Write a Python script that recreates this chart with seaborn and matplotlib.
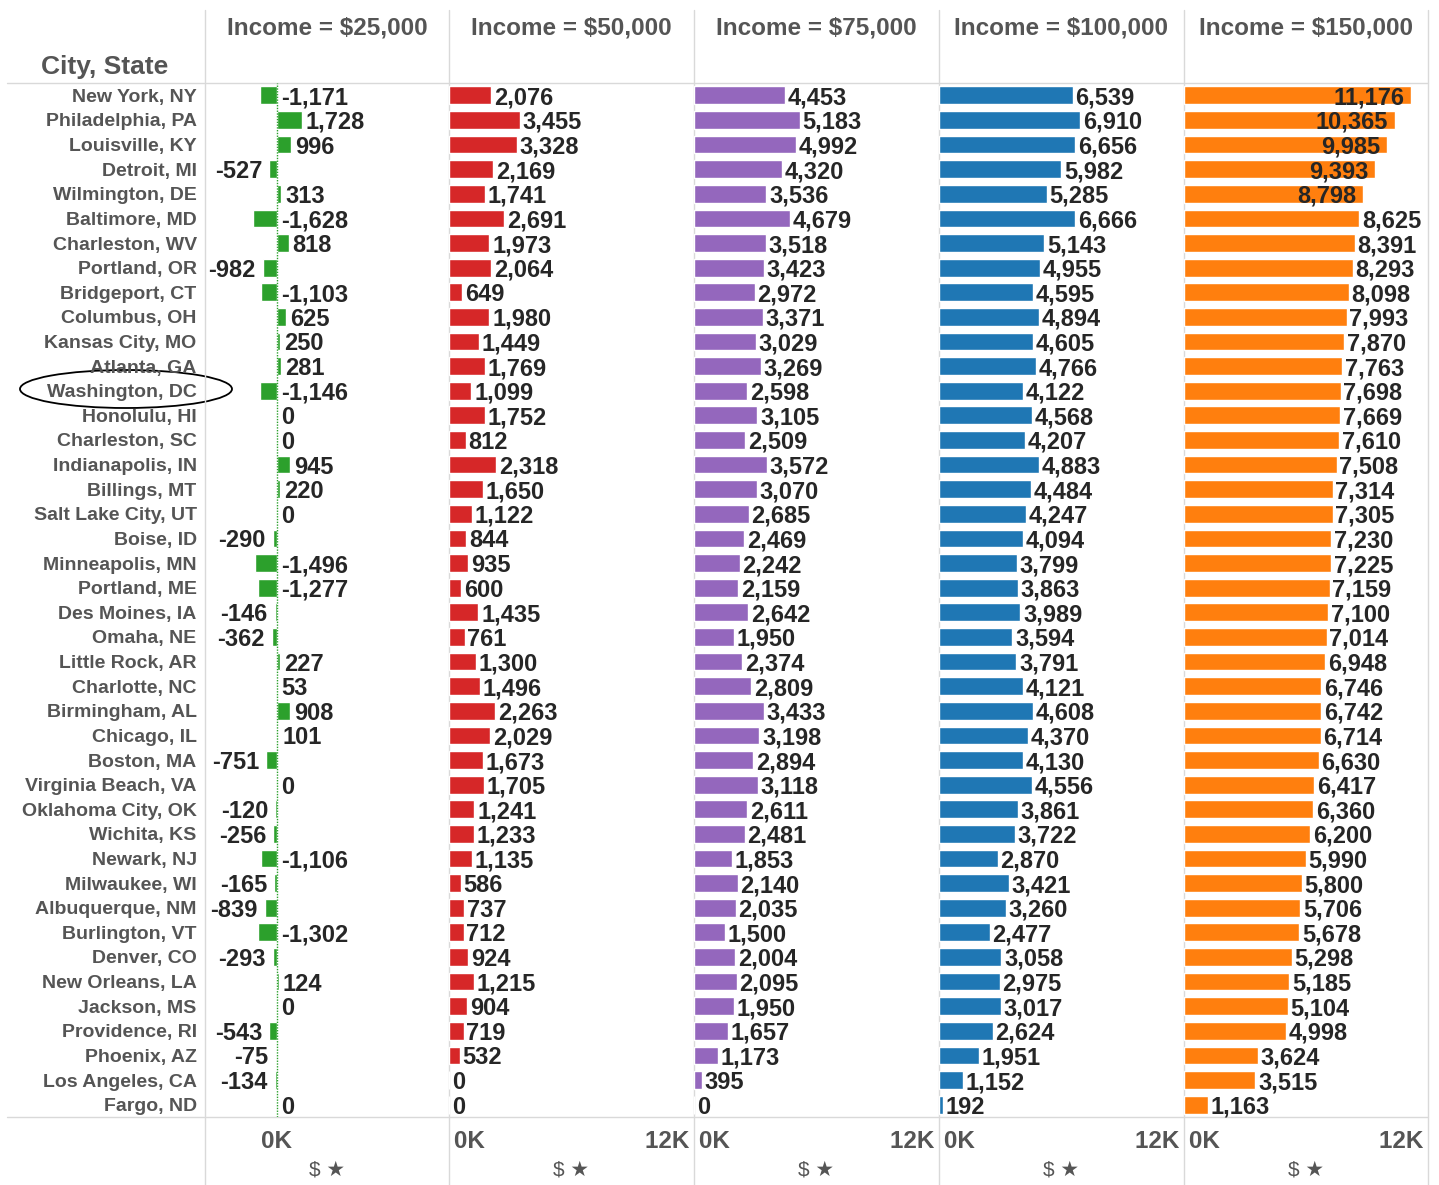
import numpy as np
import pandas as pd
import seaborn as sns
import matplotlib.pyplot as plt
from matplotlib.patches import Ellipse

# data
cities = [
    'New York, NY', 'Philadelphia, PA', 'Louisville, KY', 'Detroit, MI', 'Wilmington, DE',
    'Baltimore, MD', 'Charleston, WV', 'Portland, OR', 'Bridgeport, CT', 'Columbus, OH',
    'Kansas City, MO', 'Atlanta, GA', 'Washington, DC', 'Honolulu, HI', 'Charleston, SC',
    'Indianapolis, IN', 'Billings, MT', 'Salt Lake City, UT', 'Boise, ID', 'Minneapolis, MN',
    'Portland, ME', 'Des Moines, IA', 'Omaha, NE', 'Little Rock, AR', 'Charlotte, NC',
    'Birmingham, AL', 'Chicago, IL', 'Boston, MA', 'Virginia Beach, VA', 'Oklahoma City, OK',
    'Wichita, KS', 'Newark, NJ', 'Milwaukee, WI', 'Albuquerque, NM', 'Burlington, VT',
    'Denver, CO', 'New Orleans, LA', 'Jackson, MS', 'Providence, RI', 'Phoenix, AZ',
    'Los Angeles, CA', 'Fargo, ND',
]
inc_25k = [-1171, 1728, 996, -527, 313, -1628, 818, -982, -1103, 625,
           250, 281, -1146, 0, 0, 945, 220, 0, -290, -1496,
           -1277, -146, -362, 227, 53, 908, 101, -751, 0, -120,
           -256, -1106, -165, -839, -1302, -293, 124, 0, -543, -75,
           -134, 0]
inc_50k = [2076, 3455, 3328, 2169, 1741, 2691, 1973, 2064, 649, 1980,
           1449, 1769, 1099, 1752, 812, 2318, 1650, 1122, 844, 935,
           600, 1435, 761, 1300, 1496, 2263, 2029, 1673, 1705, 1241,
           1233, 1135, 586, 737, 712, 924, 1215, 904, 719, 532,
           0, 0]
inc_75k = [4453, 5183, 4992, 4320, 3536, 4679, 3518, 3423, 2972, 3371,
           3029, 3269, 2598, 3105, 2509, 3572, 3070, 2685, 2469, 2242,
           2159, 2642, 1950, 2374, 2809, 3433, 3198, 2894, 3118, 2611,
           2481, 1853, 2140, 2035, 1500, 2004, 2095, 1950, 1657, 1173,
           395, 0]
inc_100k = [6539, 6910, 6656, 5982, 5285, 6666, 5143, 4955, 4595, 4894,
            4605, 4766, 4122, 4568, 4207, 4883, 4484, 4247, 4094, 3799,
            3863, 3989, 3594, 3791, 4121, 4608, 4370, 4130, 4556, 3861,
            3722, 2870, 3421, 3260, 2477, 3058, 2975, 3017, 2624, 1951,
            1152, 192]
inc_150k = [11176, 10365, 9985, 9393, 8798, 8625, 8391, 8293, 8098, 7993,
            7870, 7763, 7698, 7669, 7610, 7508, 7314, 7305, 7230, 7225,
            7159, 7100, 7014, 6948, 6746, 6742, 6714, 6630, 6417, 6360,
            6200, 5990, 5800, 5706, 5678, 5298, 5185, 5104, 4998, 3624,
            3515, 1163]

headers = ['Income = $25,000', 'Income = $50,000', 'Income = $75,000',
           'Income = $100,000', 'Income = $150,000']
cols = ['inc_25k', 'inc_50k', 'inc_75k', 'inc_100k', 'inc_150k']
colors = ['#2ca02c', '#d62728', '#9467bd', '#1f77b4', '#ff7f0e']

df = pd.DataFrame({'city': cities, 'inc_25k': inc_25k, 'inc_50k': inc_50k,
                   'inc_75k': inc_75k, 'inc_100k': inc_100k, 'inc_150k': inc_150k})

sns.set_style('white')
plt.rcParams['font.family'] = ['Liberation Sans', 'DejaVu Sans']
plt.rcParams['font.weight'] = 'bold'

GRAY = '#555555'
LINE = '#d9d9d9'
W, H = 1439, 1185
fig = plt.figure(figsize=(W / 100, H / 100), dpi=100)


def px(x0, y0, x1, y1):
    return [x0 / W, 1 - y1 / H, (x1 - x0) / W, (y1 - y0) / H]


# background layer in pixel coords: grid lines, headers, ellipse
bg = fig.add_axes([0, 0, 1, 1])
bg.set_xlim(0, W)
bg.set_ylim(H, 0)
bg.axis('off')

edges = [205, 449, 694, 939, 1184, 1428]
top, bottom = 83, 1117
bg.plot([7, 1428], [top, top], color=LINE, lw=1)
bg.plot([7, 1428], [bottom, bottom], color=LINE, lw=1)
for x in edges:
    bg.plot([x, x], [10, H], color=LINE, lw=1)

bg.text(105, 67, 'City, State', ha='center', va='center', fontsize=19, color=GRAY, weight='bold')
for i, h in enumerate(headers):
    bg.text((edges[i] + edges[i + 1]) / 2, 28, h, ha='center', va='center',
            fontsize=17.5, color=GRAY, weight='bold')

bg.add_patch(Ellipse((126, 389), 212, 38, fill=False, ec='black', lw=1.3))

lims = [(-5000, 12000)] + [(0, 12000)] * 4

for i, col in enumerate(cols):
    ax = fig.add_axes(px(edges[i], top, edges[i + 1], bottom))
    sns.barplot(data=df, x=col, y='city', color=colors[i], saturation=1,
                width=0.72, ax=ax, errorbar=None)
    ax.set_xlim(*lims[i])
    ax.set_ylim(len(cities) - 0.5, -0.5)
    ax.patch.set_alpha(0)
    for s in ax.spines.values():
        s.set_visible(False)
    ax.tick_params(length=0)
    ax.set_ylabel('')
    ax.set_xlabel('$ \u2605', fontsize=15, color=GRAY, labelpad=6)

    if i == 0:
        ax.tick_params(axis='y', labelsize=14, labelcolor=GRAY, pad=6)
        ax.axvline(0, color=colors[0], lw=1, ls=(0, (1, 1)))
        ax.set_xticks([0])
        ax.set_xticklabels(['0K'])
    else:
        ax.set_yticks([])
        ax.set_xticks([0, 12000])
        ax.set_xticklabels(['\u20090K', '12K\u2009'])
        tl = ax.get_xticklabels()
        tl[0].set_ha('left')
        tl[1].set_ha('right')
    ax.tick_params(axis='x', labelsize=17.5, labelcolor=GRAY, pad=9)

    vals = df[col].values
    for j, v in enumerate(vals):
        txt = f'{v:,}'
        if i == 0:
            if v < 0 and v > -1000:
                ax.annotate(txt, (v, j), xytext=(-5, 0), textcoords='offset points',
                            ha='right', va='center_baseline', fontsize=17, weight='bold')
            else:
                xpos = max(v, 0)
                ax.annotate(txt, (xpos, j), xytext=(3, 0), textcoords='offset points',
                            ha='left', va='center_baseline', fontsize=17, weight='bold')
        elif i == 4 and v > 8700:
            ax.annotate(txt, (v, j), xytext=(-5, 0), textcoords='offset points',
                        ha='right', va='center_baseline', fontsize=17, weight='bold')
        else:
            ax.annotate(txt, (v, j), xytext=(2, 0), textcoords='offset points',
                        ha='left', va='center_baseline', fontsize=17, weight='bold')

fig.savefig('out.png', dpi=100)
